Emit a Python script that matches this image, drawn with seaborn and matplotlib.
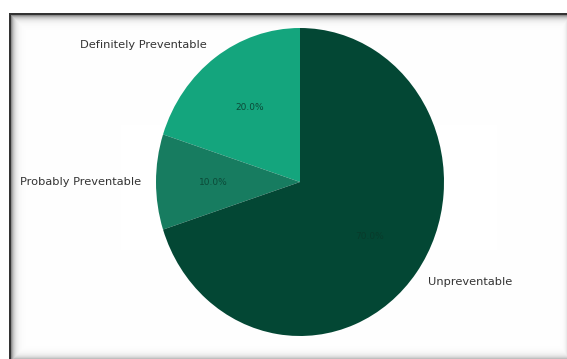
import numpy as np
import matplotlib
matplotlib.use("Agg")
import matplotlib.pyplot as plt
import seaborn as sns

sns.set_theme(style="white")
plt.rcParams["font.family"] = ["DejaVu Sans"]

# Share of cases by preventability
categories = ["Definitely Preventable", "Probably Preventable", "Unpreventable"]
shares = [20.0, 10.0, 70.0]
wedge_colors = ["#14a57d", "#177c60", "#034734"]

W, H = 567, 359
fig = plt.figure(figsize=(W / 100, H / 100), dpi=100)

# Window-like frame: dark top/left edge with a soft inner shadow
yy, xx = np.mgrid[0:H, 0:W]
left, top = 9, 13
inside = (xx >= left) & (yy >= top)
shade = np.ones((H, W))
dx = xx - (left + 2)
dy = yy - (top + 2)
shade = np.minimum(shade, np.where(dx >= 0, 1 - 0.45 * np.exp(-dx / 3.0), 1))
shade = np.minimum(shade, np.where(dy >= 0, 1 - 0.45 * np.exp(-dy / 3.0), 1))
db = (H - 1) - yy
shade = np.minimum(shade, 1 - 0.25 * np.exp(-db / 3.0))
dr = (W - 1) - xx
shade = np.minimum(shade, 1 - 0.08 * np.exp(-dr / 2.0))
bg = np.where(inside, shade, 1.0)
border = inside & ((xx < left + 2) | (yy < top + 2))
bg = np.where(border, 0.2, bg)
bax = fig.add_axes([0, 0, 1, 1], zorder=-1)
bax.imshow(np.dstack([bg, bg, bg]), aspect="auto", interpolation="nearest")
bax.axis("off")

# Pie axes: slightly taller scale vertically than horizontally
sx, sy = 144.0, 154.0
cx, cy = 300.0, H - 182.0
xr, yr = 1.5, 1.1
ax = fig.add_axes([(cx - xr * sx) / W, (cy - yr * sy) / H, 2 * xr * sx / W, 2 * yr * sy / H])
wedges, texts, autotexts = ax.pie(
    shares,
    labels=categories,
    colors=wedge_colors,
    startangle=90,
    autopct="%1.1f%%",
    pctdistance=0.6,
    labeldistance=1.1,
    wedgeprops={"linewidth": 0, "edgecolor": "none"},
    textprops={"fontsize": 8.2, "color": "#333333"},
)
for t in autotexts:
    t.set_fontsize(6.5)
    t.set_color("#0b4a38")
autotexts[2].set_color("#083b2b")
ax.set_aspect("auto")
ax.set_xlim(-xr, xr)
ax.set_ylim(-yr, yr)
ax.axis("off")

fig.savefig("out.png", dpi=100)
